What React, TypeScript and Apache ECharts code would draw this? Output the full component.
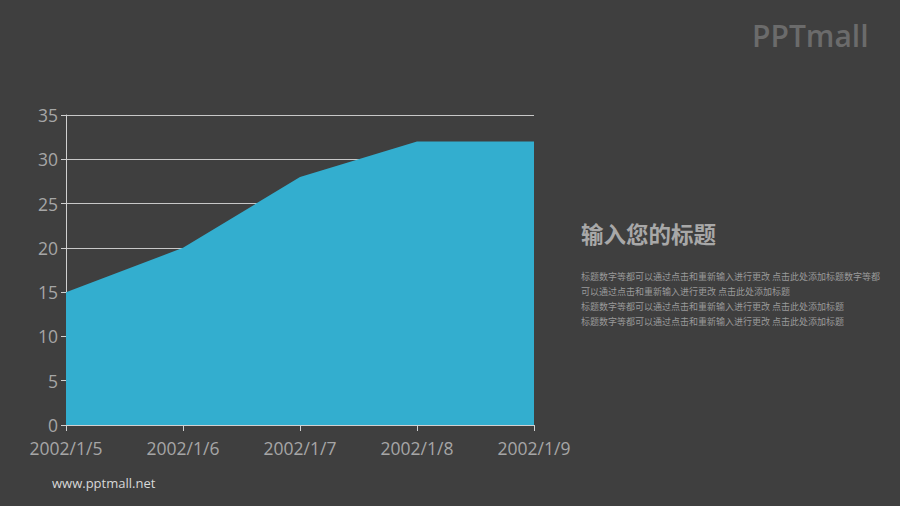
import React, { useEffect, useRef } from "react";
import * as echarts from "echarts";

const categories = ["2002/1/5", "2002/1/6", "2002/1/7", "2002/1/8", "2002/1/9"];
const values = [15, 20, 28, 32, 32];
const titleText = "输入您的标题";
const bodyLines = [
  "标题数字等都可以通过点击和重新输入进行更改 点击此处添加标题数字等都",
  "可以通过点击和重新输入进行更改 点击此处添加标题",
  "标题数字等都可以通过点击和重新输入进行更改 点击此处添加标题",
  "标题数字等都可以通过点击和重新输入进行更改 点击此处添加标题",
];
const bodyY = [277, 292, 307, 322];

export default function App() {
  const ref = useRef<HTMLDivElement>(null);
  useEffect(() => {
    if (!ref.current) return;
    const chart = echarts.init(ref.current, null, { renderer: "svg" });
    const font = "'Open Sans', 'Noto Sans CJK SC', sans-serif";
    chart.setOption({
      animation: false,
      backgroundColor: "#3f3f3f",
      grid: { left: 66, top: 115, width: 468, height: 310, containLabel: false },
      xAxis: {
        type: "category",
        data: categories,
        boundaryGap: false,
        axisLine: { show: true, lineStyle: { color: "#d0d0d0", width: 1 } },
        axisTick: { show: true, length: 6, lineStyle: { color: "#d0d0d0" } },
        axisLabel: { color: "#a6a6a6", fontSize: 17.5, margin: 16, lineHeight: 14, fontFamily: font },
      },
      yAxis: {
        type: "value",
        min: 0,
        max: 35,
        interval: 5,
        axisLine: { show: true, lineStyle: { color: "#d0d0d0", width: 1 } },
        axisTick: { show: true, length: 5, lineStyle: { color: "#d0d0d0" } },
        axisLabel: { color: "#a6a6a6", fontSize: 17.5, margin: 8, lineHeight: 14, fontFamily: font },
        splitLine: { show: true, lineStyle: { color: "#c8c8c8", width: 1 } },
      },
      series: [
        {
          type: "line",
          data: values,
          symbol: "none",
          lineStyle: { width: 0, color: "#33aecf" },
          areaStyle: { color: "#33aecf", opacity: 1 },
          z: 3,
        },
      ],
      graphic: [
        {
          type: "text",
          left: 752,
          top: 20,
          style: { text: "PPTmall", fill: "#6b6b6b", fontSize: 30, fontWeight: "600", fontFamily: "'Open Sans', sans-serif" },
        },
        {
          type: "text",
          left: 581,
          top: 222,
          style: { text: titleText, fill: "#a8a8a8", fontSize: 22.5, fontWeight: "bold", fontFamily: "'Noto Sans CJK SC', sans-serif" },
        },
        ...bodyLines.map((t, i) => ({
          type: "text",
          left: 581,
          top: bodyY[i] - 5,
          style: { text: t, fill: "#9a9a9a", fontSize: 9, fontFamily: "'Noto Sans CJK SC', sans-serif" },
        })),
        {
          type: "text",
          left: 52,
          top: 476,
          style: { text: "www.pptmall.net", fill: "#d8d8d8", fontSize: 13, fontFamily: "'Open Sans', sans-serif" },
        },
      ],
    });
    return () => chart.dispose();
  }, []);
  return <div ref={ref} style={{ width: 900, height: 506, position: "absolute", left: 0, top: 0 }} />;
}
